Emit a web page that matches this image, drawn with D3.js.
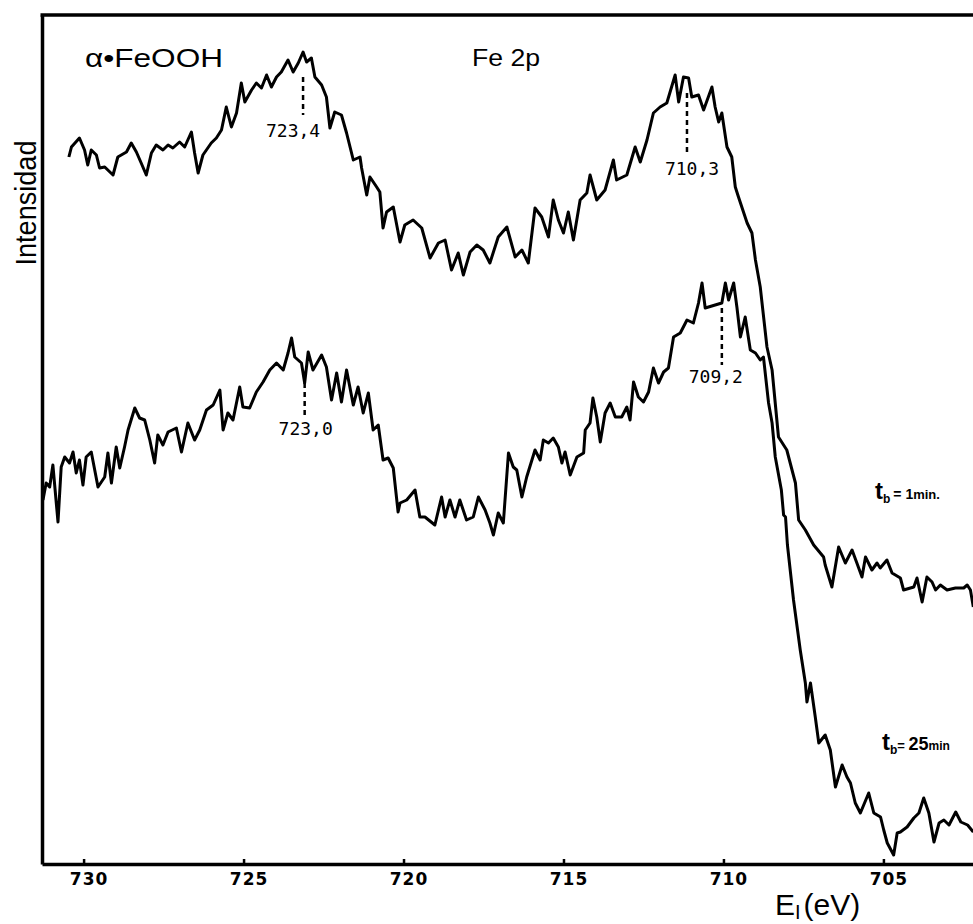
<!DOCTYPE html>
<html>
<head>
<meta charset="utf-8">
<script src="https://cdn.jsdelivr.net/npm/d3@7"></script>
<style>
  body { margin: 0; background: #fff; }
  svg { display: block; }
</style>
</head>
<body>
<div id="chart-area"></div>
<script>
// Fe 2p XPS spectra of a-FeOOH, binding energy (eV) vs intensity (arbitrary units)

// t_b = 1 min
const energy1 = [
  730.46, 730.38, 730.13, 729.97, 729.87, 729.76, 729.60, 729.50, 729.34, 729.08,
  728.93, 728.66, 728.51, 728.35, 728.20, 728.04, 727.88, 727.73, 727.52, 727.36,
  727.21, 727.00, 726.84, 726.63, 726.53, 726.42, 726.27, 726.01, 725.85, 725.69,
  725.54, 725.38, 725.22, 725.07, 724.96, 724.75, 724.60, 724.44, 724.28, 724.13,
  723.97, 723.82, 723.61, 723.45, 723.29, 723.14, 723.03, 722.88, 722.77, 722.56,
  722.41, 722.30, 722.15, 721.94, 721.78, 721.57, 721.36, 721.31, 721.15, 721.05,
  720.84, 720.74, 720.64, 720.53, 720.32, 720.11, 719.96, 719.70, 719.43, 719.17,
  718.91, 718.70, 718.50, 718.29, 718.13, 717.92, 717.71, 717.51, 717.30, 717.04,
  716.77, 716.51, 716.30, 716.10, 715.89, 715.68, 715.47, 715.32, 715.16, 715.00,
  714.85, 714.69, 714.48, 714.27, 714.17, 713.96, 713.70, 713.44, 713.34, 713.02,
  712.76, 712.60, 712.39, 712.19, 711.98, 711.77, 711.51, 711.40, 711.25, 711.09,
  710.99, 710.78, 710.62, 710.36, 710.26, 710.15, 710.05, 709.89, 709.74, 709.63,
  709.53, 709.26, 709.11, 709.00, 708.85, 708.64, 708.48, 708.28, 708.02, 707.75,
  707.65, 707.44, 707.18, 706.87, 706.82, 706.61, 706.40, 706.19, 705.98, 705.83,
  705.67, 705.56, 705.36, 705.20, 705.10, 704.89, 704.73, 704.47, 704.37, 704.05,
  703.95, 703.79, 703.64, 703.48, 703.37, 703.22, 703.01, 702.75, 702.49, 702.38,
  702.28, 702.19
];
const counts1 = [
  707, 717, 726, 714, 699, 714, 709, 696, 697, 689,
  707, 712, 721, 712, 701, 689, 711, 719, 714, 719,
  716, 722, 717, 732, 711, 691, 709, 721, 726, 734,
  757, 737, 751, 781, 762, 774, 781, 776, 789, 777,
  787, 792, 804, 792, 801, 812, 802, 806, 787, 779,
  767, 736, 752, 749, 731, 704, 707, 696, 669, 687,
  677, 672, 636, 652, 657, 622, 639, 644, 636, 606,
  621, 624, 594, 611, 589, 612, 619, 614, 601, 627,
  637, 607, 614, 601, 656, 647, 627, 664, 644, 631,
  652, 624, 664, 671, 689, 664, 674, 704, 684, 689,
  717, 702, 724, 751, 757, 761, 789, 762, 787, 786,
  767, 769, 754, 777, 757, 742, 751, 717, 707, 677,
  667, 641, 631, 604, 577, 517, 494, 427, 414, 381,
  344, 334, 319, 307, 299, 277, 317, 301, 314, 301,
  287, 307, 294, 301, 296, 304, 291, 286, 274, 277,
  286, 262, 287, 282, 274, 279, 274, 276, 276, 279,
  274, 257
];

// t_b = 25 min
const energy2 = [
  731.27, 731.17, 731.06, 730.96, 730.80, 730.70, 730.59, 730.44, 730.33, 730.23,
  730.13, 730.02, 729.92, 729.76, 729.55, 729.34, 729.24, 729.13, 728.98, 728.87,
  728.72, 728.61, 728.40, 728.25, 728.09, 727.93, 727.78, 727.68, 727.52, 727.36,
  727.10, 726.94, 726.74, 726.53, 726.37, 726.16, 725.95, 725.74, 725.64, 725.49,
  725.33, 725.12, 725.02, 724.81, 724.60, 724.39, 724.18, 723.97, 723.76, 723.61,
  723.50, 723.40, 723.19, 723.09, 722.98, 722.83, 722.56, 722.41, 722.25, 722.09,
  721.94, 721.78, 721.57, 721.42, 721.26, 721.10, 720.95, 720.79, 720.64, 720.48,
  720.32, 720.17, 720.11, 719.90, 719.64, 719.49, 719.33, 719.02, 718.81, 718.70,
  718.55, 718.39, 718.24, 718.03, 717.82, 717.66, 717.45, 717.30, 717.19, 717.04,
  716.88, 716.72, 716.57, 716.46, 716.30, 716.15, 715.89, 715.73, 715.63, 715.47,
  715.32, 715.16, 715.05, 714.95, 714.79, 714.58, 714.37, 714.32, 714.17, 714.08,
  713.96, 713.85, 713.70, 713.54, 713.38, 713.18, 713.02, 712.92, 712.81, 712.66,
  712.50, 712.34, 712.19, 712.03, 711.87, 711.72, 711.56, 711.35, 711.14, 710.94,
  710.78, 710.67, 710.57, 710.26, 710.05, 709.94, 709.84, 709.68, 709.58, 709.47,
  709.32, 709.16, 709.00, 708.85, 708.75, 708.59, 708.48, 708.38, 708.19, 708.12,
  708.06, 708.00, 707.81, 707.60, 707.44, 707.39, 707.28, 707.13, 707.02, 706.82,
  706.66, 706.50, 706.29, 706.14, 706.03, 705.88, 705.72, 705.46, 705.30, 705.09,
  704.99, 704.88, 704.68, 704.57, 704.47, 704.26, 704.05, 703.89, 703.74, 703.58,
  703.42, 703.26, 703.11, 702.95, 702.74, 702.58, 702.37, 702.19
];
const counts2 = [
  364, 381, 377, 399, 342, 397, 407, 401, 412, 391,
  404, 379, 407, 412, 377, 387, 411, 381, 417, 396,
  417, 434, 456, 446, 444, 424, 401, 429, 419, 432,
  436, 412, 441, 424, 434, 454, 459, 474, 434, 451,
  444, 477, 457, 456, 472, 482, 494, 501, 494, 511,
  526, 507, 501, 481, 512, 494, 509, 497, 464, 491,
  462, 494, 459, 477, 451, 471, 434, 439, 404, 406,
  396, 352, 361, 364, 374, 347, 347, 339, 367, 347,
  364, 347, 364, 344, 347, 367, 354, 341, 329, 351,
  341, 411, 397, 394, 367, 387, 414, 404, 424, 421,
  426, 417, 401, 412, 389, 407, 411, 434, 441, 466,
  447, 422, 451, 461, 447, 447, 457, 444, 482, 467,
  462, 472, 496, 481, 492, 496, 527, 531, 544, 541,
  561, 581, 556, 559, 561, 581, 564, 581, 557, 527,
  547, 514, 511, 504, 507, 461, 441, 407, 374, 349,
  347, 319, 264, 214, 181, 162, 181, 147, 121, 129,
  114, 77, 99, 87, 81, 61, 51, 71, 51, 47,
  34, 21, 9, 31, 32, 37, 46, 51, 66, 51,
  22, 41, 44, 39, 52, 42, 39, 32
];

const tickValues = [730, 725, 720, 715, 710, 705];
const peakEnergies = [723.14, 711.14, 723.09, 710.05];
const peakLabels = ['723,4', '710,3', '723,0', '709,2'];

const width = 973;
const height = 924;

const svg = d3.select('#chart-area')
  .append('svg')
  .attr('width', width)
  .attr('height', height);

const x = d3.scaleLinear()
  .domain([731.3, 702.2])
  .range([42, 973]);

const y = d3.scaleLinear()
  .domain([0, 849])
  .range([864, 15]);

// frame: bottom axis with ticks, left line, top line
const xAxis = d3.axisBottom(x)
  .tickValues(tickValues)
  .tickSize(-5)
  .tickSizeOuter(0)
  .tickFormat(d3.format('d'));

const gx = svg.append('g')
  .attr('transform', 'translate(0,' + y(0) + ')')
  .call(xAxis);

gx.select('.domain').attr('stroke-width', 3.5);
gx.selectAll('.tick line').attr('stroke-width', 2.5);
gx.selectAll('.tick text')
  .attr('y', 9)
  .attr('dx', 5)
  .attr('fill', '#000')
  .style('font-family', 'DejaVu Sans')
  .style('font-weight', 'bold')
  .style('font-size', '17px')
  .style('letter-spacing', '1px');

const gy = svg.append('g')
  .attr('transform', 'translate(' + x(731.3) + ',0)')
  .call(d3.axisLeft(y).tickValues([]).tickSizeOuter(0));
gy.select('.domain').attr('stroke-width', 3.5);

svg.append('line')
  .attr('x1', x(731.3) - 1.5)
  .attr('x2', width)
  .attr('y1', y(849))
  .attr('y2', y(849))
  .attr('stroke', '#000')
  .attr('stroke-width', 3.5);

// spectra
const line = d3.line()
  .x((d) => x(d[0]))
  .y((d) => y(d[1]));

[d3.zip(energy1, counts1), d3.zip(energy2, counts2)].forEach((series) => {
  svg.append('path')
    .datum(series)
    .attr('d', line)
    .attr('fill', 'none')
    .attr('stroke', '#000')
    .attr('stroke-width', 3)
    .attr('stroke-linejoin', 'round');
});

// peak markers (dashed line + value), layout in count units
const peakLayout = [
  { top: 787, bottom: 749, text: 727, dx: -10 },
  { top: 771, bottom: 711, text: 689, dx: 5 },
  { top: 481, bottom: 447, text: 429, dx: 1 },
  { top: 556, bottom: 499, text: 481, dx: -6 }
];

peakEnergies.forEach((e, i) => {
  const p = peakLayout[i];
  svg.append('line')
    .attr('x1', x(e)).attr('x2', x(e))
    .attr('y1', y(p.top)).attr('y2', y(p.bottom))
    .attr('stroke', '#000')
    .attr('stroke-width', 2.5)
    .attr('stroke-dasharray', '5,4');
  svg.append('text')
    .attr('x', x(e) + p.dx)
    .attr('y', y(p.text))
    .attr('text-anchor', 'middle')
    .style('font-family', 'DejaVu Sans Mono')
    .style('font-size', '18px')
    .text(peakLabels[i]);
});

// titles
svg.append('text')
  .attr('x', 85).attr('y', 67)
  .attr('textLength', 138)
  .attr('lengthAdjust', 'spacingAndGlyphs')
  .style('font-family', 'Liberation Sans')
  .style('font-size', '25px')
  .text('α•FeOOH');

svg.append('text')
  .attr('x', 472).attr('y', 66)
  .attr('textLength', 68)
  .attr('lengthAdjust', 'spacingAndGlyphs')
  .style('font-family', 'Liberation Sans')
  .style('font-size', '23px')
  .text('Fe 2p');

svg.append('text')
  .attr('transform', 'translate(36,203) rotate(-90)')
  .attr('text-anchor', 'middle')
  .attr('textLength', 125)
  .attr('lengthAdjust', 'spacingAndGlyphs')
  .style('font-family', 'Liberation Sans')
  .style('font-size', '29px')
  .text('Intensidad');

// curve labels
const lab1 = svg.append('text')
  .attr('x', 875).attr('y', 499)
  .style('font-family', 'Liberation Sans')
  .style('font-weight', 'bold');
lab1.append('tspan').style('font-size', '24px').text('t');
lab1.append('tspan').attr('dy', 4).style('font-size', '12px').text('b');
lab1.append('tspan').attr('dy', -4).attr('dx', 3).style('font-size', '14px').text('= 1');
lab1.append('tspan').style('font-size', '13px').text('min.');

const lab2 = svg.append('text')
  .attr('x', 882).attr('y', 750)
  .style('font-family', 'Liberation Sans')
  .style('font-weight', 'bold');
lab2.append('tspan').style('font-size', '24px').text('t');
lab2.append('tspan').attr('dy', 4).style('font-size', '12px').text('b');
lab2.append('tspan').attr('dy', -4).style('font-size', '13px').text('= ');
lab2.append('tspan').style('font-size', '18px').text('25');
lab2.append('tspan').style('font-size', '12px').text('min');

// x axis title
const xt = svg.append('text')
  .attr('x', 775).attr('y', 915)
  .style('font-family', 'Liberation Sans')
  .style('font-size', '30px');
xt.append('tspan').text('E');
xt.append('tspan').attr('dy', 4).style('font-size', '20px').text('I');
xt.append('tspan').attr('dy', -4).attr('dx', 3).text('(eV)');
</script>
</body>
</html>
